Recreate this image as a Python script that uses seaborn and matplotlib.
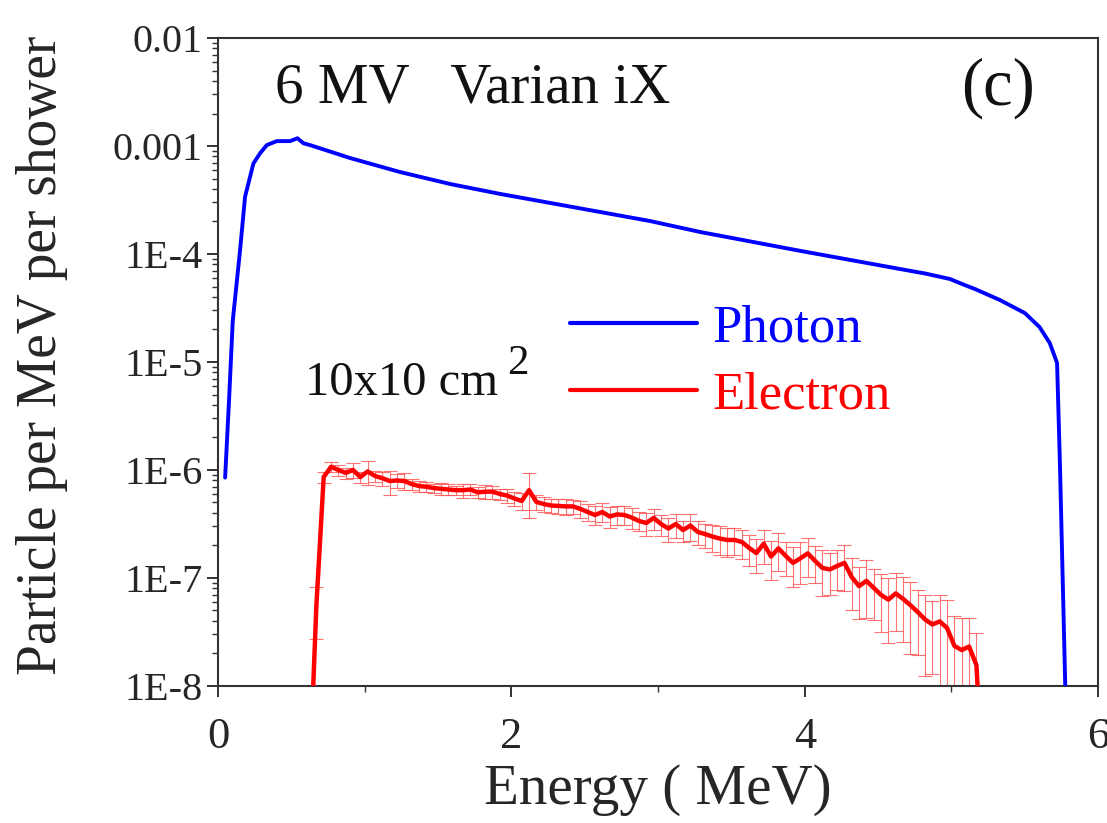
import matplotlib
matplotlib.use("Agg")
import numpy as np
import pandas as pd
import matplotlib.pyplot as plt
import seaborn as sns
from matplotlib.ticker import LogLocator, MultipleLocator, NullFormatter

# photon spectrum
photon_energy = [0.048, 0.075, 0.10, 0.15, 0.184, 0.241, 0.286, 0.332, 0.40, 0.491,
                 0.541, 0.582, 0.627, 0.90, 1.241, 1.582, 1.923, 2.264, 2.604, 2.945,
                 3.286, 3.968, 4.65, 4.82, 4.99, 5.073, 5.16, 5.33, 5.50, 5.60,
                 5.67, 5.72, 5.74, 5.775, 5.78]
photon_flux = [8.5e-7, 4.5e-6, 2.4e-5, 1.09e-4, 3.4e-4, 6.9e-4, 8.55e-4, 1.02e-3, 1.11e-3, 1.11e-3,
               1.18e-3, 1.06e-3, 1.02e-3, 7.74e-4, 5.74e-4, 4.45e-4, 3.6e-4, 2.97e-4, 2.45e-4, 2.02e-4,
               1.6e-4, 1.07e-4, 7.26e-5, 6.6e-5, 5.87e-5, 5.27e-5, 4.74e-5, 3.75e-5, 2.84e-5, 2.11e-5,
               1.5e-5, 9.8e-6, 1.07e-6, 1.1e-8, 5e-9]

# electron spectrum with relative errors
electron_energy = [0.62, 0.67, 0.72, 0.77, 0.82, 0.87, 0.92, 0.97, 1.02, 1.07,
                   1.12, 1.17, 1.22, 1.27, 1.32, 1.37, 1.42, 1.47, 1.52, 1.57,
                   1.62, 1.67, 1.72, 1.77, 1.82, 1.87, 1.92, 1.97, 2.02, 2.07,
                   2.12, 2.17, 2.22, 2.27, 2.32, 2.37, 2.42, 2.47, 2.52, 2.57,
                   2.62, 2.67, 2.72, 2.77, 2.82, 2.87, 2.92, 2.97, 3.02, 3.07,
                   3.12, 3.17, 3.22, 3.27, 3.32, 3.37, 3.42, 3.47, 3.52, 3.57,
                   3.62, 3.67, 3.72, 3.77, 3.82, 3.87, 3.92, 3.97, 4.02, 4.07,
                   4.12, 4.17, 4.22, 4.27, 4.32, 4.37, 4.42, 4.47, 4.52, 4.57,
                   4.62, 4.67, 4.72, 4.77, 4.82, 4.87, 4.92, 4.97, 5.02, 5.07,
                   5.12, 5.17, 5.22]
electron_flux = [1e-9, 5.5e-8, 8.6e-7, 1.07e-6, 1.0e-6, 9.4e-7, 1.0e-6, 8.6e-7, 9.7e-7, 8.8e-7,
                 8.4e-7, 7.9e-7, 8.0e-7, 7.9e-7, 7.4e-7, 7.1e-7, 7.0e-7, 6.8e-7, 6.7e-7, 6.6e-7,
                 6.5e-7, 6.5e-7, 6.6e-7, 6.2e-7, 6.3e-7, 6.3e-7, 6.0e-7, 5.8e-7, 5.45e-7, 5.16e-7,
                 6.5e-7, 5.06e-7, 4.84e-7, 4.69e-7, 4.65e-7, 4.6e-7, 4.6e-7, 4.36e-7, 4.08e-7, 3.83e-7,
                 4.08e-7, 3.71e-7, 3.88e-7, 3.83e-7, 3.63e-7, 3.37e-7, 3.23e-7, 3.6e-7, 3.16e-7, 2.87e-7,
                 3.16e-7, 2.78e-7, 3.06e-7, 2.67e-7, 2.55e-7, 2.42e-7, 2.32e-7, 2.25e-7, 2.25e-7, 2.16e-7,
                 1.9e-7, 1.7e-7, 2.08e-7, 1.58e-7, 1.88e-7, 1.6e-7, 1.38e-7, 1.52e-7, 1.69e-7, 1.44e-7,
                 1.24e-7, 1.2e-7, 1.29e-7, 1.38e-7, 1.02e-7, 8.4e-8, 9.4e-8, 8.1e-8, 6.97e-8, 6.3e-8,
                 7.2e-8, 6.4e-8, 5.6e-8, 4.84e-8, 4.13e-8, 3.71e-8, 3.96e-8, 3.44e-8, 2.35e-8, 2.15e-8,
                 2.32e-8, 1.56e-8, 1e-9]
electron_relerr = [0, 0.5, 0.12, 0.10, 0.12, 0.12, 0.15, 0.12, 0.25, 0.12,
                   0.15, 0.25, 0.15, 0.18, 0.12, 0.12, 0.10, 0.10, 0.12, 0.12,
                   0.10, 0.15, 0.12, 0.12, 0.15, 0.14, 0.12, 0.14, 0.15, 0.18,
                   0.45, 0.16, 0.15, 0.15, 0.16, 0.16, 0.15, 0.18, 0.18, 0.20,
                   0.20, 0.22, 0.20, 0.20, 0.22, 0.20, 0.25, 0.22, 0.22, 0.25,
                   0.25, 0.22, 0.28, 0.25, 0.25, 0.28, 0.30, 0.30, 0.28, 0.30,
                   0.32, 0.35, 0.35, 0.40, 0.38, 0.35, 0.40, 0.42, 0.40, 0.38,
                   0.45, 0.42, 0.40, 0.45, 0.50, 0.50, 0.55, 0.50, 0.55, 0.60,
                   0.55, 0.60, 0.65, 0.60, 0.70, 0.65, 0.75, 0.80, 0.90, 1.00,
                   0.85, 1.00, 0]

y_ticks = [1e-2, 1e-3, 1e-4, 1e-5, 1e-6, 1e-7, 1e-8]
y_ticklabels = ["0.01", "0.001", "1E-4", "1E-5", "1E-6", "1E-7", "1E-8"]
x_ticks = [0, 2, 4, 6]

sns.set_theme(style="ticks")
plt.rcParams['font.family'] = ['Liberation Serif', 'DejaVu Serif']

photon_df = pd.DataFrame({"E": photon_energy, "flux": photon_flux})
electron_df = pd.DataFrame({"E": electron_energy, "flux": electron_flux, "rel": electron_relerr})
electron_df["err"] = electron_df["flux"] * electron_df["rel"]

fig = plt.figure(figsize=(11.07, 8.23), dpi=100)
ax = fig.add_axes([0.197, 0.1665, 0.795, 0.7873])
ax.set_yscale("log")

# error bars first so the lines sit on top
ax.errorbar(electron_df["E"], electron_df["flux"], yerr=electron_df["err"], fmt="none",
            ecolor="#ff5050", elinewidth=0.8, capsize=5, capthick=0.8, alpha=0.8, zorder=2)
sns.lineplot(data=photon_df, x="E", y="flux", ax=ax, color="#0000ff", linewidth=2.8,
             sort=False, estimator=None, label="Photon", zorder=3)
sns.lineplot(data=electron_df, x="E", y="flux", ax=ax, color="#ff0000", linewidth=3.2,
             sort=False, estimator=None, label="Electron", zorder=4)

ax.set_xlim(0, 6)
ax.set_ylim(1e-8, 1e-2)
ax.set_xticks(x_ticks)
ax.set_xticklabels([str(t) for t in x_ticks])
ax.xaxis.set_minor_locator(MultipleLocator(1))
ax.set_yticks(y_ticks)
ax.set_yticklabels(y_ticklabels)
ax.yaxis.set_minor_locator(LogLocator(base=10, subs=np.arange(2, 10)))
ax.yaxis.set_minor_formatter(NullFormatter())

ax.tick_params(axis="both", which="major", length=8, width=1.4, color="#333333")
ax.tick_params(axis="both", which="minor", length=4, width=1.0, color="#333333")
ax.tick_params(axis="x", labelsize=32, pad=14)
ax.tick_params(axis="y", labelsize=29, pad=3)
for sp in ax.spines.values():
    sp.set_visible(True)
    sp.set_color("#333333")
    sp.set_linewidth(1.5)

ax.set_xlabel("Energy ( MeV)", fontsize=41)
ax.set_ylabel("Particle per MeV per shower", fontsize=40)
ax.xaxis.set_label_coords(0.5, -0.12)
ax.yaxis.set_label_coords(-0.17, 0.51)

ax.text(0.065, 0.901, "6 MV   Varian iX", transform=ax.transAxes, fontsize=41,
        ha="left", va="baseline", color="#111111")
ax.text(0.928, 0.923, "(c)", transform=ax.transAxes, fontsize=48,
        ha="right", va="center", color="#111111")
ax.text(0.099, 0.449, "10x10 cm", transform=ax.transAxes, fontsize=35,
        ha="left", va="baseline", color="#111111")
ax.text(0.328, 0.482, "2", transform=ax.transAxes, fontsize=31,
        ha="left", va="baseline", color="#111111")

leg = ax.legend(loc="center left", bbox_to_anchor=(0.4, 0.500), frameon=False,
                fontsize=38, handlelength=2.4, handletextpad=0.3, labelspacing=0.36,
                borderpad=0, borderaxespad=0, labelcolor="linecolor")
for line in leg.get_lines():
    line.set_linewidth(3)

fig.savefig("out.png", dpi=100)
